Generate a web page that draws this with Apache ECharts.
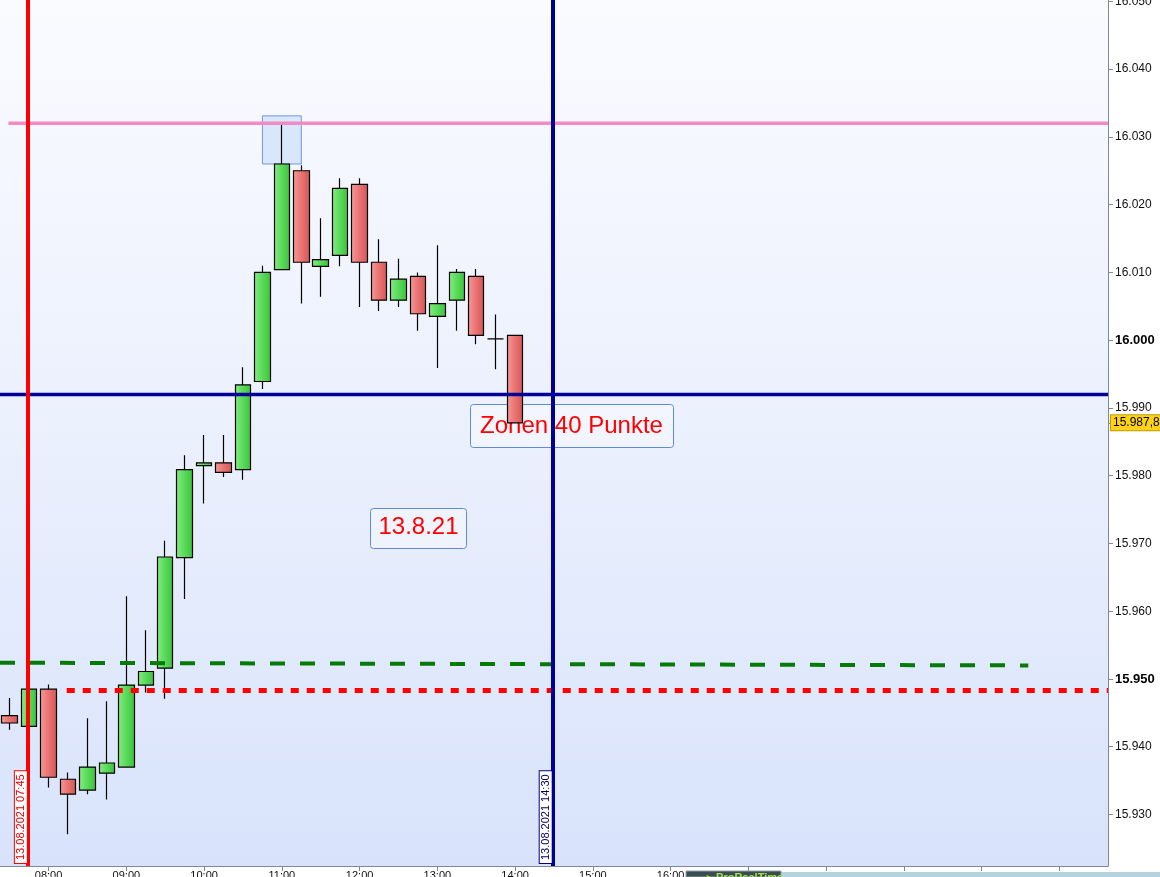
<!DOCTYPE html>
<html>
<head>
<meta charset="utf-8">
<title>DAX 15 Min – 13.08.2021</title>
<script src="https://cdn.jsdelivr.net/npm/echarts@6/dist/echarts.min.js"></script>
<style>
  html, body { margin: 0; padding: 0; background: #ffffff; }
  #chart { width: 1160px; height: 877px; }
</style>
</head>
<body>
<div id="chart"></div>
<script>
// 15-minute candles, 13.08.2021
const candleTimes = ['07:30','07:45','08:00','08:15','08:30','08:45','09:00','09:15','09:30','09:45',
  '10:00','10:15','10:30','10:45','11:00','11:15','11:30','11:45','12:00','12:15',
  '12:30','12:45','13:00','13:15','13:30','13:45','14:00'];
const opens  = [15944.6,15943.0,15948.5,15935.2,15933.6,15936.1,15937.0,15949.1,15951.6,15967.9,
  15981.5,15981.9,15980.9,15993.9,16010.4,16025.0,16010.9,16012.5,16023.0,16011.5,
  16005.9,16009.4,16003.5,16005.9,16009.4,16000.2,16000.7];
const closes = [15943.5,15948.5,15935.5,15933.0,15937.0,15937.6,15949.1,15951.1,15968.0,15980.9,
  15981.9,15980.5,15993.4,16010.0,16026.0,16011.5,16011.9,16022.4,16011.5,16005.9,
  16009.0,16003.9,16005.4,16010.0,16000.7,16000.2,15987.8];
const lows   = [15942.5,15943.0,15934.0,15927.1,15933.0,15932.2,15937.0,15948.0,15947.1,15961.8,
  15975.9,15979.8,15979.4,15992.8,16010.4,16005.4,16006.4,16010.9,16004.9,16004.3,
  16004.9,16001.4,15995.9,16001.4,15999.4,15995.7,15987.8];
const highs  = [15947.2,15948.5,15949.2,15936.2,15944.2,15946.7,15962.2,15957.2,15970.4,15983.0,
  15986.0,15986.0,15996.0,16011.0,16031.8,16025.8,16018.0,16023.9,16023.9,16014.9,
  16012.0,16010.0,16014.0,16010.5,16010.5,16003.8,16000.7];

// price scale
const yTicks = [15930,15940,15950,15960,15970,15980,15990,16000,16010,16020,16030,16040,16050];
const boldTicks = [15950, 16000];
const yMin = 15922.4, yMax = 16050.2;
const lastPrice = 15987.8;

// drawn levels
const resistance = 16032;          // pink
const zoneLevel = 15992;           // navy horizontal
const greenLevel = [15952.4, 15952.0];
const redLevel = 15948.3;
const highlightBox = { from: '10:45', to: '11:15', low: 16026.0, high: 16033.1 };

// time markers (minutes from midnight) and their captions
const startMarker = { min: 464, text: '13.08.2021 07:45' };
const endMarker = { min: 869, text: '13.08.2021 14:30' };

// session axis: 15-minute slots 07:30 … 21:30
const slots = [];
for (let m = 450; m <= 1290; m += 15) {
  const h = Math.floor(m / 60), mm = m % 60;
  slots.push(String(h).padStart(2, '0') + ':' + String(mm).padStart(2, '0'));
}
const axisMinMinutes = 450 - 7.5;
const axisMaxMinutes = 1290 + 7.5;

const candleData = candleTimes.map((t, i) => [opens[i], closes[i], lows[i], highs[i]]);

function fmtPrice(v) {
  const int = Math.floor(v / 1000);
  const rest = Math.round(v - int * 1000);
  return int + '.' + String(rest).padStart(3, '0');
}
function fmtLast(v) {
  const s = v.toFixed(1).split('.');
  return fmtPrice(Number(s[0])) + ',' + s[1];
}

const bullFill = { type: 'linear', x: 0, y: 0, x2: 1, y2: 0,
  colorStops: [{ offset: 0, color: '#86ec86' }, { offset: 0.45, color: '#5ddc5d' }, { offset: 1, color: '#3cc23c' }] };
const bearFill = { type: 'linear', x: 0, y: 0, x2: 1, y2: 0,
  colorStops: [{ offset: 0, color: '#f69a9a' }, { offset: 0.45, color: '#ec7676' }, { offset: 1, color: '#d45656' }] };

const chart = echarts.init(document.getElementById('chart'), null, { renderer: 'canvas' });

const font = '"Liberation Sans", Arial, sans-serif';

chart.setOption({
  animation: false,
  backgroundColor: '#ffffff',
  textStyle: { fontFamily: font },
  grid: {
    left: 0, right: 52, top: 0, bottom: 11,
    containLabel: false,
    outerBoundsMode: 'none',
    show: true,
    borderWidth: 0,
    backgroundColor: { type: 'linear', x: 0, y: 0, x2: 0, y2: 1,
      colorStops: [{ offset: 0, color: '#fafbff' }, { offset: 0.5, color: '#ebf0fd' }, { offset: 1, color: '#d8e3fb' }] }
  },
  xAxis: [{
    type: 'category',
    data: slots,
    boundaryGap: true,
    axisLine: { show: true, lineStyle: { color: '#7d8a96', width: 1 } },
    axisTick: {
      show: true, alignWithLabel: true, length: 5,
      interval: (i, v) => v.endsWith(':00'),
      lineStyle: { color: '#7d8a96' }
    },
    axisLabel: {
      show: true, margin: 4, fontSize: 11, color: '#111', fontFamily: font,
      interval: (i, v) => v.endsWith(':00') && Number(v.slice(0, 2)) <= 16
    },
    splitLine: { show: false }
  }, {
    type: 'value',
    min: axisMinMinutes, max: axisMaxMinutes,
    show: false
  }],
  yAxis: {
    type: 'value',
    position: 'right',
    min: yMin, max: yMax,
    scale: true,
    axisLine: { show: true, lineStyle: { color: '#7d8a96', width: 1 } },
    axisTick: { show: true, length: 5, customValues: yTicks.concat([lastPrice]), lineStyle: { color: '#7d8a96' } },
    axisLabel: {
      show: true, margin: 7, fontSize: 12, color: '#111', fontFamily: font,
      customValues: yTicks,
      formatter: v => boldTicks.includes(v) ? '{b|' + fmtPrice(v) + '}' : fmtPrice(v),
      rich: { b: { fontWeight: 'bold', fontSize: 13, color: '#000', fontFamily: font } }
    },
    splitLine: { show: false }
  },
  series: [
    {
      type: 'candlestick',
      name: 'DAX',
      data: candleData,
      barWidth: 16,
      z: 3,
      itemStyle: {
        color: bullFill, color0: bearFill,
        borderColor: '#000', borderColor0: '#000', borderColorDoji: '#000',
        borderWidth: 1.2
      },
      markArea: {
        silent: true,
        itemStyle: { color: 'rgba(214,228,252,0.9)', borderColor: '#6f98e2', borderWidth: 1 },
        data: [[
          { xAxis: highlightBox.from, yAxis: highlightBox.high },
          { xAxis: highlightBox.to, yAxis: highlightBox.low }
        ]]
      },
      markLine: {
        silent: true, symbol: 'none',
        lineStyle: { color: 'rgba(0,0,0,0)', width: 1, type: 'solid' },
        label: {
          show: true, position: 'end', distance: 3,
          formatter: () => fmtLast(lastPrice),
          color: '#000', fontSize: 12, fontFamily: font,
          backgroundColor: '#ffd21a', borderColor: '#c39a00', borderWidth: 1,
          padding: [2, 1, 1, 2]
        },
        data: [{ yAxis: lastPrice }]
      }
    },
    {
      type: 'line', name: 'Widerstand', xAxisIndex: 1,
      data: [[449, resistance], [axisMaxMinutes, resistance]],
      showSymbol: false, symbol: 'none', z: 4,
      lineStyle: { color: '#f28ac6', width: 3.5 },
      markLine: {
        silent: true, symbol: 'none',
        lineStyle: { type: 'solid', width: 4 },
        data: [
          {
            xAxis: startMarker.min,
            lineStyle: { color: '#ff0000', width: 4 },
            label: {
              show: true, position: 'insideStartTop', distance: [3, 1],
              formatter: startMarker.text, color: '#e00000', fontSize: 11, fontFamily: font,
              backgroundColor: '#ffffff', borderColor: '#ff0000', borderWidth: 1, padding: [1, 3, 0, 3]
            }
          },
          {
            xAxis: endMarker.min,
            lineStyle: { color: '#000099', width: 4 },
            label: {
              show: true, position: 'insideStartTop', distance: [3, 1],
              formatter: endMarker.text, color: '#000060', fontSize: 11, fontFamily: font,
              backgroundColor: '#ffffff', borderColor: '#000080', borderWidth: 1, padding: [1, 3, 0, 3]
            }
          }
        ]
      }
    },
    {
      type: 'line', name: 'Zone', xAxisIndex: 1,
      data: [[axisMinMinutes, zoneLevel], [axisMaxMinutes, zoneLevel]],
      showSymbol: false, symbol: 'none', z: 4,
      lineStyle: { color: '#000099', width: 3.5 }
    },
    {
      type: 'line', name: 'Trend', xAxisIndex: 1,
      data: [[axisMinMinutes, greenLevel[0]], [1236, greenLevel[1]]],
      showSymbol: false, symbol: 'none', z: 4,
      lineStyle: { color: '#067a06', width: 4, type: [15, 15], cap: 'butt' }
    },
    {
      type: 'line', name: 'Unterstützung', xAxisIndex: 1,
      data: [[494, redLevel], [axisMaxMinutes, redLevel]],
      showSymbol: false, symbol: 'none', z: 4,
      lineStyle: { color: '#ff0000', width: 5, type: [8, 8], cap: 'butt' }
    }
  ],
  graphic: [
    // annotation boxes
    {
      type: 'group', z: 100,
      children: [
        { type: 'rect', shape: { x: 470.5, y: 404.5, width: 203, height: 43, r: 3 },
          style: { fill: 'rgba(255,255,255,0.35)', stroke: '#5f8bd4', lineWidth: 1 } },
        { type: 'text', x: 571.5, y: 426,
          style: { text: 'Zonen 40 Punkte', fill: '#ff0000', font: '24px "Liberation Sans", Arial, sans-serif',
            align: 'center', verticalAlign: 'middle' } },
        { type: 'rect', shape: { x: 370.5, y: 508.5, width: 96, height: 40, r: 3 },
          style: { fill: 'rgba(255,255,255,0.35)', stroke: '#5f8bd4', lineWidth: 1 } },
        { type: 'text', x: 418.5, y: 527,
          style: { text: '13.8.21', fill: '#ff0000', font: '24px "Liberation Sans", Arial, sans-serif',
            align: 'center', verticalAlign: 'middle' } }
      ]
    },
    // status strip along the bottom edge
    {
      type: 'group', z: 100,
      children: [
        { type: 'rect', shape: { x: 781, y: 872, width: 379, height: 5 },
          style: { fill: '#b4d3de' } },
        { type: 'rect', shape: { x: 686, y: 871, width: 95, height: 6 },
          style: { fill: '#3d4b52', stroke: '#8aa3ad', lineWidth: 1 } },
        { type: 'text', x: 707, y: 872,
          style: { text: '▸ ProRealTime', fill: '#a6e34a', font: 'bold 11px "Liberation Sans", Arial, sans-serif',
            verticalAlign: 'top' } }
      ]
    }
  ]
});
</script>
</body>
</html>
